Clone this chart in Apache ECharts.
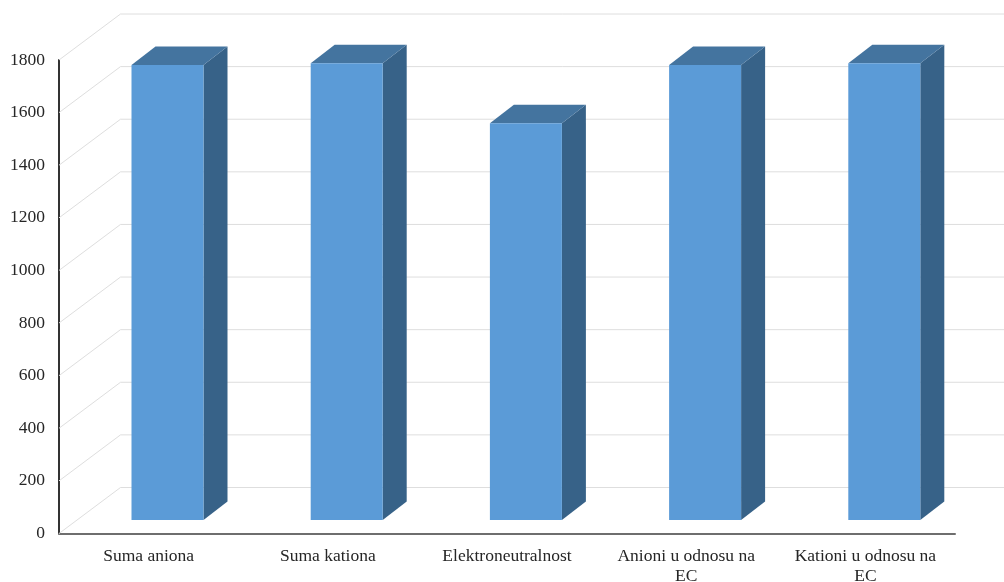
<!DOCTYPE html>
<html>
<head>
<meta charset="utf-8">
<style>html,body{margin:0;padding:0;background:#fff}#c{width:1004px;height:582px}</style>
<script src="https://cdn.jsdelivr.net/npm/echarts@6/dist/echarts.min.js"></script>
</head>
<body>
<div id="c"></div>
<script>
var categories = ['Suma aniona', 'Suma kationa', 'Elektroneutralnost', 'Anioni u odnosu na\nEC', 'Kationi u odnosu na\nEC'];
var values = [1730, 1736, 1508, 1730, 1736];
var gridTicks = [0, 200, 400, 600, 800, 1000, 1200, 1400, 1600, 1800];

var WALL_DX = 61.5, WALL_DY = 46;
var BAR_SHIFT_X = 18.9, BAR_SHIFT_Y = 13.5, BAR_W = 72, DEPTH_X = 24, DEPTH_Y = 18.5;

var chart = echarts.init(document.getElementById('c'), null, {renderer: 'canvas'});
chart.setOption({
  animation: false,
  backgroundColor: '#fff',
  grid: {left: 59, right: 49, top: 60, bottom: 48.5, containLabel: false, outerBoundsMode: 'none'},
  textStyle: {fontFamily: '"Liberation Serif"'},
  xAxis: {
    type: 'category',
    data: categories,
    axisLine: {show: true, lineStyle: {color: '#6e6e6e', width: 2}},
    axisTick: {show: false},
    axisLabel: {interval: 0, margin: 13, color: '#262626', fontSize: 17.5, lineHeight: 20, fontFamily: '"Liberation Serif"', hideOverlap: false},
    splitLine: {show: false}
  },
  yAxis: {
    type: 'value',
    min: 0,
    max: 1800,
    interval: 200,
    axisLine: {show: true, lineStyle: {color: '#333', width: 2}},
    axisTick: {show: false},
    axisLabel: {margin: 14, color: '#262626', fontSize: 17.5, fontFamily: '"Liberation Serif"', formatter: function (v) { return String(v); }},
    splitLine: {show: false}
  },
  series: [
    {
      type: 'custom',
      silent: true,
      clip: false,
      z: 1,
      data: gridTicks.map(function (t) { return [0, t]; }),
      encode: {x: 0, y: 1},
      renderItem: function (params, api) {
        var y = api.coord([0, api.value(1)])[1];
        var cs = params.coordSys;
        var l = cs.x;
        return {
          type: 'polyline',
          shape: {points: [[l, y], [l + WALL_DX, y - WALL_DY], [l + cs.width + WALL_DX, y - WALL_DY]]},
          style: {stroke: '#dedede', lineWidth: 1, fill: null}
        };
      }
    },
    {
      type: 'custom',
      silent: true,
      clip: false,
      z: 2,
      data: values.map(function (v, i) { return [i, v]; }),
      encode: {x: 0, y: 1},
      renderItem: function (params, api) {
        var top = api.coord([api.value(0), api.value(1)]);
        var base = api.coord([api.value(0), 0]);
        var x0 = top[0] + BAR_SHIFT_X - BAR_W / 2;
        var x1 = x0 + BAR_W;
        var yT = top[1] - BAR_SHIFT_Y;
        var yB = base[1] - BAR_SHIFT_Y;
        return {
          type: 'group',
          children: [
            {type: 'polygon', shape: {points: [[x1, yT], [x1 + DEPTH_X, yT - DEPTH_Y], [x1 + DEPTH_X, yB - DEPTH_Y], [x1, yB]]}, style: {fill: '#376288'}},
            {type: 'polygon', shape: {points: [[x0, yT], [x0 + DEPTH_X, yT - DEPTH_Y], [x1 + DEPTH_X, yT - DEPTH_Y], [x1, yT]]}, style: {fill: '#44749F'}},
            {type: 'rect', shape: {x: x0, y: yT, width: BAR_W, height: yB - yT}, style: {fill: '#5B9BD7'}}
          ]
        };
      }
    }
  ]
});
</script>
</body>
</html>
